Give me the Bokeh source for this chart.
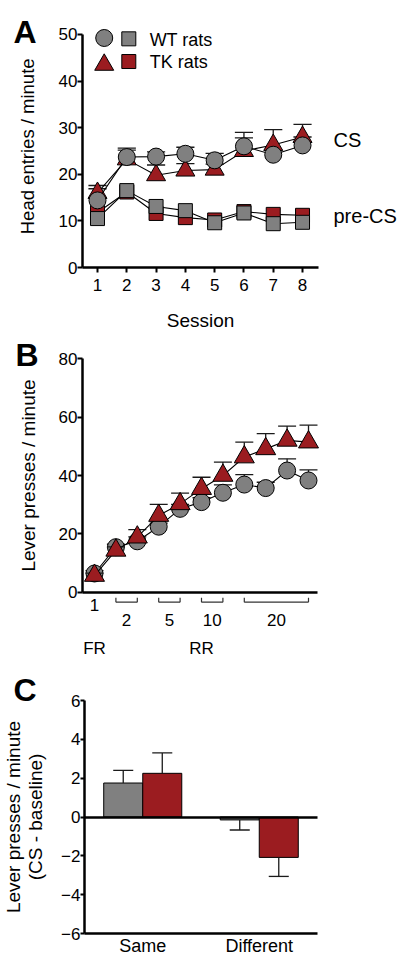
import numpy as np
from bokeh.plotting import figure
from bokeh.models import FixedTicker, Range1d, LinearAxis
from bokeh.layouts import column
from bokeh.embed import file_html
from bokeh.resources import INLINE
from bokeh.core.properties import value

FONT = "Liberation Sans"
GREY = "#808080"
RED = "#9b1c20"
INK = "#1a1a1a"

# ---------------- data: panel A (head entries / minute) ----------------
sessions = [1, 2, 3, 4, 5, 6, 7, 8]
wt_cs = [14.4, 23.7, 23.8, 24.4, 23.0, 26.0, 24.2, 26.2]
wt_cs_err = [2.5, 1.5, 1.0, 1.4, 1.5, 1.8, 1.0, 1.8]
tk_cs = [16.0, 23.2, 19.8, 20.8, 21.0, 25.0, 26.3, 28.0]
tk_cs_err = [1.6, 2.4, 2.2, 1.5, 1.2, 4.0, 3.3, 2.7]
wt_pre = [10.5, 16.5, 13.1, 12.2, 9.6, 11.7, 9.4, 9.7]
tk_pre = [11.8, 16.2, 11.6, 10.7, 10.2, 12.0, 11.4, 11.2]
a_yticks = [0, 10, 20, 30, 40, 50]

# ---------------- data: panel B (lever presses / minute) ----------------
b_points = [1, 2, 3, 4, 5, 6, 7, 8, 9, 10, 11]
wt_lp = [6.5, 15.5, 17.5, 22.5, 28.6, 30.9, 34.1, 36.9, 35.7, 41.7, 38.3]
wt_lp_err = [1.0, 1.0, 1.5, 1.2, 1.5, 1.5, 2.7, 3.4, 2.0, 4.0, 3.6]
tk_lp = [5.8, 14.4, 18.9, 26.3, 30.3, 35.5, 40.0, 46.3, 49.1, 52.0, 51.4]
tk_lp_err = [0.8, 1.2, 2.6, 3.8, 3.7, 3.9, 4.6, 5.1, 5.2, 4.9, 5.8]
ratio_labels = ["1", "2", "5", "10", "20"]
ratio_start = [1, 2, 4, 6, 8]
ratio_end = [1, 3, 5, 7, 11]
schedule_labels = ["FR", "RR"]
schedule_at = [1, 6]
b_yticks = [0, 20, 40, 60, 80]

# ---------------- data: panel C (CS - baseline) ----------------
conditions = ["Same", "Different"]
wt_diff = [1.75, -0.15]
wt_diff_err = [0.65, 0.52]
tk_diff = [2.25, -2.08]
tk_diff_err = [1.05, 0.98]
c_yticks = [-6, -4, -2, 0, 2, 4, 6]

TICK = "17px"


def make_fig(w, h, xr, yr):
    p = figure(width=w, height=h, x_range=Range1d(*xr), y_range=Range1d(*yr),
               output_backend="svg", toolbar_location=None,
               min_border_left=0, min_border_right=0, min_border_top=0, min_border_bottom=0)
    p.xgrid.visible = False
    p.ygrid.visible = False
    p.outline_line_color = None
    p.background_fill_color = "white"
    p.border_fill_color = "white"
    return p


def style_axis(ax, label_size=TICK):
    ax.axis_line_width = 2.5
    ax.axis_line_color = "black"
    ax.major_tick_line_width = 2
    ax.major_tick_line_color = "black"
    ax.major_tick_out = 5
    ax.major_tick_in = 0
    ax.minor_tick_out = 0
    ax.minor_tick_in = 0
    ax.major_label_text_font = FONT
    ax.major_label_text_font_size = label_size
    ax.major_label_text_color = "black"
    ax.major_label_standoff = 0


def err_up(p, x, y, e, half, signed=False):
    x = np.asarray(x, float)
    y = np.asarray(y, float)
    e = np.asarray(e, float)
    s = np.sign(y) if signed else np.ones_like(y)
    top = y + s * e
    p.segment(x0=x, y0=y, x1=x, y1=top, line_color=INK, line_width=1.3)
    p.segment(x0=x - half, y0=top, x1=x + half, y1=top, line_color=INK, line_width=1.3)


def txt(p, x, y, t, size, align="left", baseline="middle", angle=0.0, bold=False):
    p.text(x=x, y=y, text=t, text_font=value(FONT), text_font_size=size,
           text_font_style="bold" if bold else "normal", text_align=align,
           text_baseline=baseline, angle=angle, text_color="black")


# ======================= Panel A =======================
pA = make_fig(400, 330, (-2.3117, 11.345), (-13.519, 57.296))
yA = pA.yaxis[0]
xA = pA.xaxis[0]
style_axis(yA)
style_axis(xA)
yA.fixed_location = 0.4879
yA.bounds = (0, 50)
yA.ticker = FixedTicker(ticks=a_yticks)
xA.fixed_location = 0
xA.bounds = (0.4879, 8.546)
xA.ticker = FixedTicker(ticks=sessions)
xA.major_label_standoff = 6

capA = 0.31
pA.line(sessions, tk_pre, line_color="black", line_width=1.1)
pA.scatter(sessions, tk_pre, marker="square", size=14, fill_color=RED, line_color="black", line_width=1)
pA.line(sessions, wt_pre, line_color="black", line_width=1.1)
pA.scatter(sessions, wt_pre, marker="square", size=14, fill_color=GREY, line_color="black", line_width=1)
err_up(pA, sessions, tk_cs, tk_cs_err, capA)
err_up(pA, sessions, wt_cs, wt_cs_err, capA)
pA.line(sessions, tk_cs, line_color="black", line_width=1.1)
pA.scatter(sessions, tk_cs, marker="triangle", size=19, fill_color=RED, line_color="black", line_width=1)
pA.line(sessions, wt_cs, line_color="black", line_width=1.1)
pA.scatter(sessions, wt_cs, marker="circle", size=17, fill_color=GREY, line_color="black", line_width=1)

# legend (manual)
pA.scatter([1.229], [49.25], marker="circle", size=17, fill_color=GREY, line_color="black", line_width=1)
pA.scatter([2.069], [49.07], marker="square", size=14, fill_color=GREY, line_color="black", line_width=1)
pA.scatter([1.229], [43.5], marker="triangle", size=19, fill_color=RED, line_color="black", line_width=1)
pA.scatter([2.069], [44.2], marker="square", size=14, fill_color=RED, line_color="black", line_width=1)
txt(pA, [2.78, 2.78], [48.9, 44.2], ["WT rats", "TK rats"], "18px")

txt(pA, [9.057, 9.057], [27.3, 11.1], ["CS", "pre-CS"], "20px")
txt(pA, [-1.373], [26.0], ["Head entries / minute"], "18.5px", align="center", angle=np.pi / 2)
txt(pA, [4.517], [-11.37], ["Session"], "19px", align="center")
txt(pA, [-1.868], [50.64], ["A"], "32px", baseline="alphabetic", bold=True)

# ======================= Panel B =======================
pB = make_fig(400, 332, (-3.3925, 15.299), (-23.932, 89.573))
yB = pB.yaxis[0]
xB = pB.xaxis[0]
style_axis(yB)
style_axis(xB)
yB.fixed_location = 0.4393
yB.bounds = (0, 80)
yB.ticker = FixedTicker(ticks=b_yticks)
xB.fixed_location = 0
xB.bounds = (0.4393, 11.42)
xB.ticker = FixedTicker(ticks=[])
xB.major_tick_out = 0

capB = 0.42
err_up(pB, b_points, wt_lp, wt_lp_err, capB)
pB.line(b_points, wt_lp, line_color="black", line_width=1.1)
pB.scatter(b_points, wt_lp, marker="circle", size=17, fill_color=GREY, line_color="black", line_width=1)
err_up(pB, b_points, tk_lp, tk_lp_err, capB)
pB.line(b_points, tk_lp, line_color="black", line_width=1.1)
pB.scatter(b_points, tk_lp, marker="triangle", size=20, fill_color=RED, line_color="black", line_width=1)

rs = np.array(ratio_start, float)
re_ = np.array(ratio_end, float)
has_br = rs < re_
pB.segment(x0=rs[has_br], y0=-3.3, x1=re_[has_br], y1=-3.3, line_color="#333333", line_width=1.2)
pB.segment(x0=rs[has_br], y0=-3.3, x1=rs[has_br], y1=-1.8, line_color="#333333", line_width=1.2)
pB.segment(x0=re_[has_br], y0=-3.3, x1=re_[has_br], y1=-1.8, line_color="#333333", line_width=1.2)
lab_y = np.where(has_br, -9.35, -4.44)
txt(pB, (rs + re_) / 2, lab_y, ratio_labels, "17px", align="center")
txt(pB, schedule_at, [-19.1] * len(schedule_at), schedule_labels, "17px", align="center")
txt(pB, [-2.107], [40.0], ["Lever presses / minute"], "19px", align="center", angle=np.pi / 2)
txt(pB, [-2.69], [81.03], ["B"], "32px", baseline="alphabetic", bold=True)

# ======================= Panel C =======================
pC = make_fig(400, 294, (-1.4421, 5.4249), (-7.184, 7.957))
yC = pC.yaxis[0]
xC = pC.xaxis[0]
style_axis(yC)
style_axis(xC, label_size="18px")
yC.fixed_location = 0
yC.bounds = (-6, 6)
yC.ticker = FixedTicker(ticks=c_yticks)
yC.major_tick_out = 4
centers = np.arange(len(conditions)) * 2.0 + 1.0
xC.fixed_location = -6
xC.bounds = (0, 4)
xC.ticker = FixedTicker(ticks=list(centers))
xC.major_label_overrides = {float(c): n for c, n in zip(centers, conditions)}
xC.major_tick_out = 0
xC.major_label_standoff = 2
zero_axis = LinearAxis(fixed_location=0, bounds=(0, 4), ticker=FixedTicker(ticks=[]))
style_axis(zero_axis)
zero_axis.major_tick_out = 0
pC.add_layout(zero_axis, "below")

bw = 0.67
pC.vbar(x=centers - bw / 2, width=bw, top=wt_diff, bottom=0, fill_color=GREY, line_color="black", line_width=1)
pC.vbar(x=centers + bw / 2, width=bw, top=tk_diff, bottom=0, fill_color=RED, line_color="black", line_width=1)
err_up(pC, centers - bw / 2, wt_diff, wt_diff_err, 0.172, signed=True)
err_up(pC, centers + bw / 2, tk_diff, tk_diff_err, 0.172, signed=True)

txt(pC, [-1.2275], [0.0], ["Lever presses / minute"], "19px", align="center", angle=np.pi / 2)
txt(pC, [-0.8498], [0.0], ["(CS - baseline)"], "19px", align="center", angle=np.pi / 2)
txt(pC, [-1.219], [6.566], ["C"], "32px", baseline="alphabetic", bold=True)

layout = column(pA, pB, pC, spacing=0)
open("out.html", "w").write(file_html(layout, INLINE))
